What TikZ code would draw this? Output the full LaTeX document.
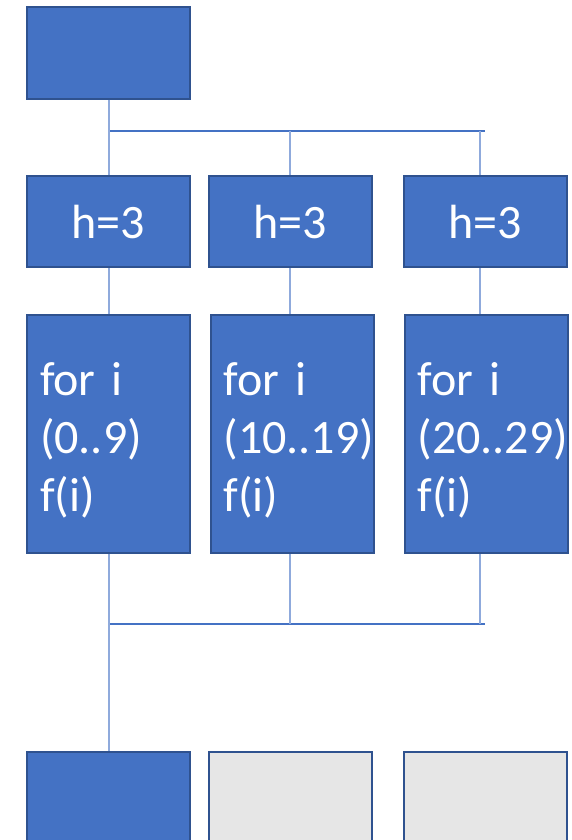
\documentclass[tikz,border=0pt]{standalone}
\usepackage{fontspec}
\setmainfont{Carlito}
\definecolor{boxblue}{HTML}{4472C4}
\definecolor{boxedge}{HTML}{2F528F}
\definecolor{linkblue}{HTML}{8FAADC}
\definecolor{boxgrey}{HTML}{E6E6E6}
\newcommand{\toppad}{\rule{0pt}{45pt}}
\tikzset{
  bluebox/.style={draw=boxedge, fill=boxblue, line width=2pt, minimum width=163pt, inner sep=0pt, text=white, font=\fontsize{48}{58}\selectfont},
  greybox/.style={bluebox, fill=boxgrey},
  forbox/.style={bluebox, minimum height=238pt, text width=137pt, inner xsep=13pt, align=left},
  link/.style={draw=linkblue, line width=1.4pt},
  bus/.style={draw=boxblue, line width=1.2pt}
}
\begin{document}
\begin{tikzpicture}[x=1pt,y=1pt]
\useasboundingbox (0,0) rectangle (571,-840);
\clip (0,0) rectangle (571,-840);
\fill[white] (0,0) rectangle (571,-840);
% top
\node[bluebox, minimum height=92pt] (top) at (108.5,-53) {};
% h boxes
\node[bluebox, minimum height=91pt] (h1) at (108.5,-221.5) {h=3};
\node[bluebox, minimum height=91pt] (h2) at (290.5,-221.5) {h=3};
\node[bluebox, minimum height=91pt] (h3) at (485,-221.5) {h=3};
% for boxes
\node[forbox] (f1) at (108.5,-434) {\toppad for i\\(0..9)\\f(i)};
\node[forbox] (f2) at (292,-434) {\toppad for i\\(10..19)\\f(i)};
\node[forbox] (f3) at (486,-434) {\toppad for i\\(20..29)\\f(i)};
% bottom boxes
\node[bluebox, minimum height=92pt, anchor=north] (b1) at (108.5,-751) {};
\node[greybox, minimum height=92pt, anchor=north] (b2) at (290.5,-751) {};
\node[greybox, minimum height=92pt, anchor=north] (b3) at (485,-751) {};
% coordinates
\coordinate (ta) at (110,-131);
\coordinate (tb) at (290,-131);
\coordinate (tc) at (480,-131);
\coordinate (te) at (485,-131);
\coordinate (ba) at (110,-624);
\coordinate (bb) at (290,-624);
\coordinate (bc) at (480,-624);
\coordinate (be) at (485,-624);
% top connectors
\draw[bus] (ta) -- (te);
\draw[link] (top.south -| 109,0) -- (h1.north -| 109,0);
\draw[link] (tb) -- (tb |- h2.north);
\draw[link] (tc) -- (tc |- h3.north);
% h to for
\draw[link] (h1.south -| 109,0) -- (f1.north -| 109,0);
\draw[link] (h2.south -| tb) -- (f2.north -| tb);
\draw[link] (h3.south -| tc) -- (f3.north -| tc);
% bottom connectors
\draw[bus] (ba) -- (be);
\draw[link] (f1.south -| 109,0) -- (b1.north -| 109,0);
\draw[link] (f2.south -| bb) -- (bb);
\draw[link] (f3.south -| bc) -- (bc);
\end{tikzpicture}
\end{document}
